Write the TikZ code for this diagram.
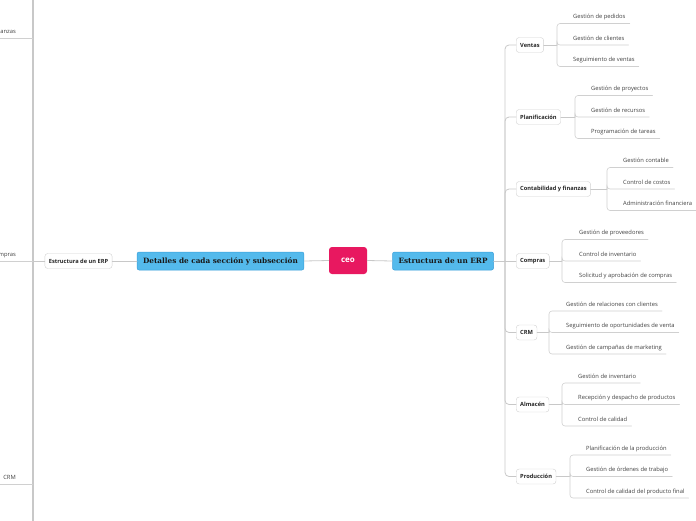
\documentclass[tikz,border=0pt]{standalone}
\usepackage{fontspec}
\setmainfont{Open Sans}
\newfontfamily\slabfont{DejaVu Serif}
\usepackage{tikz}
\usetikzlibrary{positioning}
\usepackage{xcolor}
\definecolor{ceoPink}{RGB}{232,24,96}
\definecolor{topicBlue}{RGB}{84,186,236}
\definecolor{topicEdge}{RGB}{58,158,218}
\definecolor{lineGray}{RGB}{200,200,200}

\begin{document}
\begin{tikzpicture}[x=1pt,y=-1pt,line cap=round,
  link/.style={draw=lineGray,line width=0.8pt},
  twig/.style={draw=lineGray!85,line width=0.6pt,rounded corners=3pt},
  ceobox/.style={fill=ceoPink,rounded corners=3pt,text=white,font=\bfseries\fontsize{8}{9}\selectfont,minimum width=38pt,minimum height=27pt},
  topic/.style={fill=topicBlue,draw=topicEdge,line width=0.5pt,rounded corners=2pt,font=\slabfont\bfseries\fontsize{7.3}{8}\selectfont,text=black!90,minimum height=18pt,inner xsep=6pt},
  branch/.style={draw=gray!35,fill=white,rounded corners=3pt,font=\bfseries\fontsize{5.7}{6}\selectfont,text=black!85,minimum height=15pt,inner xsep=4pt,anchor=west},
  leaf/.style={anchor=south west,inner xsep=0pt,inner ysep=4.5pt,text depth=0pt,font=\fontsize{5.8}{6}\selectfont,text=black!75},
  leafL/.style={leaf,anchor=south east}]
\useasboundingbox (0,0) rectangle (696,520);
\clip (0,0) rectangle (696,520);

\node[ceobox] (ceo) at (348,260.5) {ceo};
\node[topic] (detalles) at (220.5,261) {Detalles de cada sección y subsección};
\node[topic] (erpR) at (443,261) {Estructura de un ERP};
\node[branch,anchor=center] (erpL) at (78.5,261) {Estructura de un ERP};
\draw[link] (ceo.west) -- (detalles.east);
\draw[link] (ceo.east) -- (erpR.west);
\draw[link] (detalles.west) -- (erpL.east);

\coordinate (trunkL) at (33,261);
\coordinate (trunkTop) at (33,-5);
\coordinate (trunkBot) at (33,525);
\draw[link,line width=1.3pt] (trunkTop) -- (trunkBot);
\draw[link] (erpL.west) -- (trunkL);
\node[leafL] (lConta) at (16,38) {Contabilidad y finanzas};
\node[leafL] (lCompras) at (16,261) {Compras};
\node[leafL] (lCrm) at (16,484.5) {CRM};
\coordinate (lContaV) at (33,38);
\coordinate (lCrmV) at (33,484.5);
\draw[twig] (lContaV) -- ([xshift=-4pt]lConta.south west);
\draw[twig] (trunkL) -- ([xshift=-4pt]lCompras.south west);
\draw[twig] (lCrmV) -- ([xshift=-4pt]lCrm.south west);

\coordinate (trunkR) at (505,261);
\draw[link] (erpR.east) -- (trunkR);
\node[branch] (ventas) at (516,45) {Ventas};
\node[branch] (planif) at (516,117) {Planificación};
\node[branch] (conta) at (516,189) {Contabilidad y finanzas};
\node[branch] (compras) at (516,261) {Compras};
\node[branch] (crm) at (516,332.5) {CRM};
\node[branch] (almacen) at (516,404.5) {Almacén};
\node[branch] (produc) at (516,476.5) {Producción};
\draw[link,rounded corners=4pt] (trunkR) |- (ventas.west);
\draw[link,rounded corners=4pt] (trunkR) |- (planif.west);
\draw[link,rounded corners=4pt] (trunkR) |- (conta.west);
\draw[link] (trunkR) -- (compras.west);
\draw[link,rounded corners=4pt] (trunkR) |- (crm.west);
\draw[link,rounded corners=4pt] (trunkR) |- (almacen.west);
\draw[link,rounded corners=4pt] (trunkR) |- (produc.west);

\node[leaf] (pedidos) at (573,23.5) {Gestión de pedidos};
\node[leaf] (clientes) at (573,45) {Gestión de clientes};
\node[leaf] (segVentas) at (573,66.5) {Seguimiento de ventas};
\coordinate (ventasV) at (557,45);
\draw[link] (ventas.east) -- (ventasV);
\draw[twig] (ventasV) |- ([xshift=4pt]pedidos.south east);
\draw[twig] (ventasV) |- ([xshift=4pt]clientes.south east);
\draw[twig] (ventasV) |- ([xshift=4pt]segVentas.south east);

\node[leaf] (proyectos) at (591,95.5) {Gestión de proyectos};
\node[leaf] (recursos) at (591,117) {Gestión de recursos};
\node[leaf] (tareas) at (591,138.5) {Programación de tareas};
\coordinate (planifV) at (575,117);
\draw[link] (planif.east) -- (planifV);
\draw[twig] (planifV) |- ([xshift=4pt]proyectos.south east);
\draw[twig] (planifV) |- ([xshift=4pt]recursos.south east);
\draw[twig] (planifV) |- ([xshift=4pt]tareas.south east);

\node[leaf] (contable) at (623,167.5) {Gestión contable};
\node[leaf] (costos) at (623,189) {Control de costos};
\node[leaf] (admFin) at (623,210.5) {Administración financiera};
\coordinate (contaV) at (607,189);
\draw[link] (conta.east) -- (contaV);
\draw[twig] (contaV) |- ([xshift=4pt]contable.south east);
\draw[twig] (contaV) |- ([xshift=4pt]costos.south east);
\draw[twig] (contaV) |- ([xshift=4pt]admFin.south east);

\node[leaf] (proveedores) at (579,239.5) {Gestión de proveedores};
\node[leaf] (inventario) at (579,261) {Control de inventario};
\node[leaf] (solicitud) at (579,282.5) {Solicitud y aprobación de compras};
\coordinate (comprasV) at (562,261);
\draw[link] (compras.east) -- (comprasV);
\draw[twig] (comprasV) |- ([xshift=4pt]proveedores.south east);
\draw[twig] (comprasV) |- ([xshift=4pt]inventario.south east);
\draw[twig] (comprasV) |- ([xshift=4pt]solicitud.south east);

\node[leaf] (relaciones) at (566,311) {Gestión de relaciones con clientes};
\node[leaf] (oportunidades) at (566,332.5) {Seguimiento de oportunidades de venta};
\node[leaf] (campanas) at (566,354) {Gestión de campañas de marketing};
\coordinate (crmV) at (549,332.5);
\draw[link] (crm.east) -- (crmV);
\draw[twig] (crmV) |- ([xshift=4pt]relaciones.south east);
\draw[twig] (crmV) |- ([xshift=4pt]oportunidades.south east);
\draw[twig] (crmV) |- ([xshift=4pt]campanas.south east);

\node[leaf] (invAlm) at (578,383) {Gestión de inventario};
\node[leaf] (recepcion) at (578,404.5) {Recepción y despacho de productos};
\node[leaf] (calidad) at (578,426) {Control de calidad};
\coordinate (almacenV) at (562,404.5);
\draw[link] (almacen.east) -- (almacenV);
\draw[twig] (almacenV) |- ([xshift=4pt]invAlm.south east);
\draw[twig] (almacenV) |- ([xshift=4pt]recepcion.south east);
\draw[twig] (almacenV) |- ([xshift=4pt]calidad.south east);

\node[leaf] (planProd) at (586,455) {Planificación de la producción};
\node[leaf] (ordenes) at (586,476.5) {Gestión de órdenes de trabajo};
\node[leaf] (calFinal) at (586,498) {Control de calidad del producto final};
\coordinate (producV) at (570,476.5);
\draw[link] (produc.east) -- (producV);
\draw[twig] (producV) |- ([xshift=4pt]planProd.south east);
\draw[twig] (producV) |- ([xshift=4pt]ordenes.south east);
\draw[twig] (producV) |- ([xshift=4pt]calFinal.south east);
\end{tikzpicture}
\end{document}
